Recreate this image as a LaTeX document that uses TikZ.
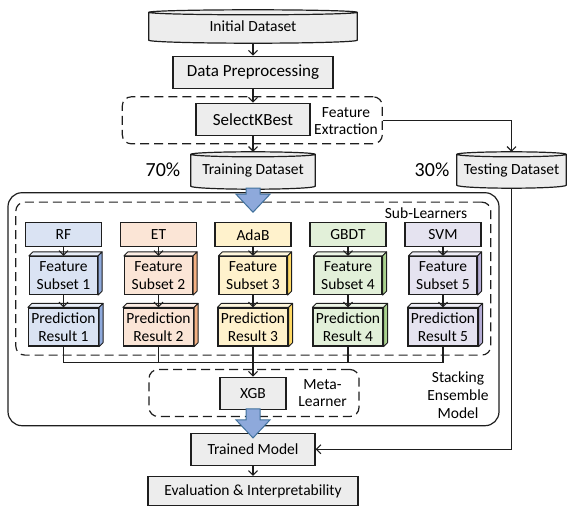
\documentclass[tikz,border=0pt]{standalone}
\usepackage{fontspec}
\setmainfont{Carlito}
\usetikzlibrary{arrows.meta,calc}
\pgfdeclarelayer{background}
\pgfsetlayers{background,main}

\definecolor{lc}{HTML}{1E1E1E}
\definecolor{gfill}{HTML}{EDEDED}
\definecolor{arrfill}{HTML}{8EA9DB}
\definecolor{arrline}{HTML}{41719C}
% learner colours: front, top and side faces
\definecolor{fr1}{HTML}{DAE3F3}\definecolor{tp1}{HTML}{E8EEF8}\definecolor{sd1}{HTML}{8FAADC}
\definecolor{fr2}{HTML}{FBE5D6}\definecolor{tp2}{HTML}{FDEEE4}\definecolor{sd2}{HTML}{F4B183}
\definecolor{fr3}{HTML}{FFF2CC}\definecolor{tp3}{HTML}{FFF7DD}\definecolor{sd3}{HTML}{FFD966}
\definecolor{fr4}{HTML}{E2F0D9}\definecolor{tp4}{HTML}{EDF6E7}\definecolor{sd4}{HTML}{A9D18E}
\definecolor{fr5}{HTML}{E5E3F0}\definecolor{tp5}{HTML}{EEEDF6}\definecolor{sd5}{HTML}{B4ACD4}

% database drum behind a named node
\newcommand\cylshape[1]{%
  \begin{pgfonlayer}{background}
  \path[draw=lc, fill=gfill, line width=1.2pt]
    let \p1=(#1.north west), \p2=(#1.south east), \n1={(\x2-\x1)/2} in
    (\x1,\y1-2.5pt) -- (\x1,\y2+3pt)
      arc[start angle=180,end angle=360,x radius=\n1,y radius=3pt]
      -- (\x2,\y1-2.5pt)
      arc[start angle=0,end angle=180,x radius=\n1,y radius=2.5pt] -- cycle
    (\x1,\y1-2.5pt) arc[start angle=180,end angle=360,x radius=\n1,y radius=2.5pt];
  \end{pgfonlayer}}

% top and right faces of a box node
\newcommand\cubeside[3]{%
  \filldraw[draw=lc, line width=0.9pt, fill=#2, line join=round]
    (#1.north west) -- ++(4pt,4pt) -- ($(#1.north east)+(4pt,4pt)$) -- (#1.north east) -- cycle;
  \filldraw[draw=lc, line width=0.9pt, fill=#3, line join=round]
    (#1.north east) -- ++(4pt,4pt) -- ($(#1.south east)+(4pt,4pt)$) -- (#1.south east) -- cycle;}

% wide downward block arrow below an anchor
\newcommand\fatdown[3]{%
  \filldraw[fill=arrfill, draw=arrline, line width=1pt, line join=miter]
    ($(#1)+(-7pt,1pt)$) -- ++(0pt,-#2) -- ++(-10pt,0pt) -- ++(17pt,-#3)
    -- ++(17pt,#3) -- ++(-10pt,0pt) -- ++(0pt,#2) -- cycle;}

\begin{document}
\begin{tikzpicture}[x=1pt,y=-1pt,
  every node/.style={font=\fontsize{15.5}{17.5}\selectfont, text=black},
  gbox/.style={draw=lc, fill=gfill, line width=1.2pt, inner sep=0pt},
  bigtxt/.style={font=\fontsize{17}{19}\selectfont},
  cylbox/.style={inner sep=0pt},
  labbox/.style={draw=lc, line width=1.2pt, inner sep=0pt, minimum width=76pt, minimum height=24pt},
  cubebox/.style={draw=lc, line width=1.2pt, inner sep=0pt, minimum width=68pt, minimum height=38pt, align=center},
  dashbox/.style={draw=lc, line width=1.2pt, dash pattern=on 9pt off 5pt, rounded corners=9pt, inner sep=0pt},
  arr/.style={draw=lc, line width=1.1pt, -{Straight Barb[length=4.5pt,width=9pt]}},
  wire/.style={draw=lc, line width=1.1pt},
  pct/.style={font=\fontsize{20}{22}\selectfont}]
\useasboundingbox (0,0) rectangle (567,506);

% outer containers
\node[draw=lc, line width=1.2pt, rounded corners=14pt, inner sep=0pt,
      minimum width=491pt, minimum height=233pt] (sem) at (253.5,309.2) {};
\node[dashbox, minimum width=475pt, minimum height=153pt] (sub) at (253.3,278.6) {};
\node[dashbox, minimum width=260pt, minimum height=47pt] (fe) at (252.3,120.3) {};
\node[dashbox, minimum width=210pt, minimum height=47pt] (meta) at (254,393) {};

% data preparation chain
\node[cylbox, minimum width=208pt, minimum height=33pt] (ini) at (253,26.5) {Initial Dataset};
\cylshape{ini}
\node[gbox, bigtxt, minimum width=160pt, minimum height=32pt] (dp) at (253,72.2) {Data Preprocessing};
\node[gbox, bigtxt, minimum width=114pt, minimum height=32pt] (skb) at (253,119.2) {SelectKBest};
\node[align=center] (felab) at (346,121) {Feature\\Extraction};
\node[cylbox, minimum width=124pt, minimum height=37pt] (trn) at (253,170.5) {Training Dataset};
\cylshape{trn}
\node[cylbox, minimum width=109pt, minimum height=36pt] (tst) at (511.5,170) {Testing Dataset};
\cylshape{tst}
\node[pct] (p70) at (163,170) {70\%};
\node[pct] (p30) at (432,170) {30\%};

% sub-learners
\node (sublab) at (426,213) {Sub-Learners};
\foreach \i/\cx/\nm in {1/63.5/RF,2/158.5/ET,3/253/AdaB,4/348/GBDT,5/443/SVM}{
  \node[labbox, fill=fr\i] (lab\i) at (\cx,234.7) {\nm};
  \node[cubebox, fill=fr\i] (fs\i) at (\cx,275.5) {Feature\\Subset \i};
  \cubeside{fs\i}{tp\i}{sd\i}
  \node[cubebox, fill=fr\i, minimum width=70pt] (pr\i) at (\cx,327) {Prediction\\Result \i};
  \cubeside{pr\i}{tp\i}{sd\i}
  \draw[arr] (lab\i) -- (fs\i);
  \draw[arr] (fs\i) -- (pr\i);
}

% meta-learner and outputs
\node[gbox, minimum width=66pt, minimum height=32pt] (xgb) at (253,393.3) {XGB};
\node[align=center] (metalab) at (322.5,393) {Meta-\\Learner};
\node[align=center, font=\fontsize{15.5}{18.3}\selectfont] (semlab) at (458,395) {Stacking\\Ensemble\\Model};
\node[gbox, minimum width=124pt, minimum height=32pt] (tm) at (253,449.2) {Trained Model};
\node[gbox, minimum width=210pt, minimum height=29pt] (ev) at (253,491) {Evaluation \& Interpretability};

% connectors
\coordinate (join) at (253,362.7);
\draw[arr] (ini) -- (dp);
\draw[arr] (dp) -- (skb);
\draw[arr] (skb) -- (trn);
\draw[arr] (fe.east) -| (tst.north);
\draw[arr] (tst.south) |- (tm.east);
\draw[wire] (pr1.south) |- (join);
\draw[wire] (pr2.south) |- (join);
\draw[wire] (pr4.south) |- (join);
\draw[wire] (pr5.south) |- (join);
\draw[arr] (pr3.south) -- (xgb.north);
\draw[arr] (tm) -- (ev);

% block arrows
\fatdown{trn.south}{6pt}{18pt}
\fatdown{xgb.south}{11pt}{18pt}
\end{tikzpicture}
\end{document}
